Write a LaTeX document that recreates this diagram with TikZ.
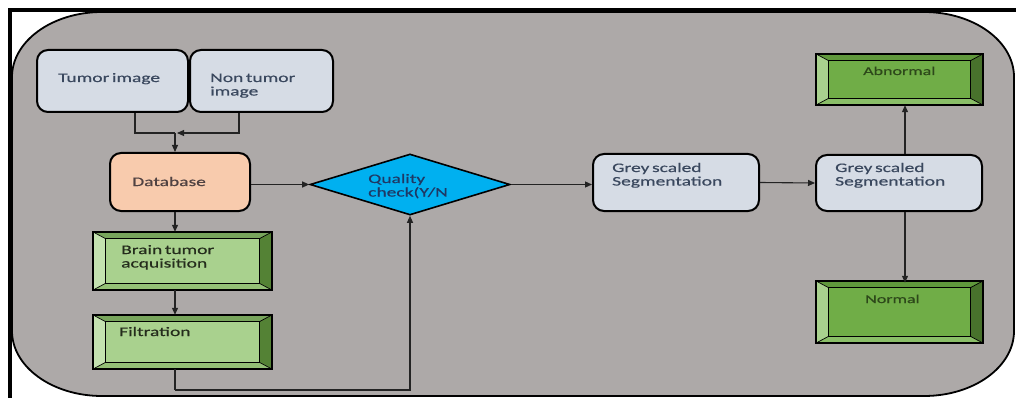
\documentclass[tikz,border=0pt]{standalone}
\usepackage{fontspec}
\setmainfont{Carlito}[FakeStretch=1.5,FakeBold=0.5]
\usetikzlibrary{arrows.meta,shapes.geometric,calc}
\definecolor{bggrey}{RGB}{173,169,168}
\definecolor{boxblue}{RGB}{214,220,229}
\definecolor{peach}{RGB}{248,203,173}
\definecolor{cyanq}{RGB}{0,176,240}
\definecolor{slate}{RGB}{58,72,94}
\definecolor{navyq}{RGB}{31,56,100}
\definecolor{dbtext}{RGB}{80,66,66}
\definecolor{gtext}{RGB}{36,44,28}
\definecolor{dgtext}{RGB}{45,72,26}
\definecolor{lgfill}{RGB}{169,209,142}
\definecolor{lgtop}{RGB}{120,165,92}
\definecolor{lgleft}{RGB}{196,226,176}
\definecolor{lgright}{RGB}{84,130,53}
\definecolor{lgbottom}{RGB}{148,192,118}
\definecolor{dgfill}{RGB}{112,173,71}
\definecolor{dgtop}{RGB}{96,152,60}
\definecolor{dgleft}{RGB}{169,209,142}
\definecolor{dgright}{RGB}{72,114,44}
\definecolor{dgbottom}{RGB}{138,190,104}
\definecolor{lineg}{RGB}{35,35,35}
\newcommand\bevelfaces[6]{%
 \fill[#2] (#1.north west) rectangle (#1.south east);
 \fill[#3] (#1.north west) -- (#1.north east) -- ([shift={(-13pt,-7pt)}]#1.north east) -- ([shift={(13pt,-7pt)}]#1.north west) -- cycle;
 \fill[#4] (#1.north west) -- ([shift={(13pt,-7pt)}]#1.north west) -- ([shift={(13pt,7pt)}]#1.south west) -- (#1.south west) -- cycle;
 \fill[#5] (#1.north east) -- ([shift={(-13pt,-7pt)}]#1.north east) -- ([shift={(-13pt,7pt)}]#1.south east) -- (#1.south east) -- cycle;
 \fill[#6] (#1.south west) -- ([shift={(13pt,7pt)}]#1.south west) -- ([shift={(-13pt,7pt)}]#1.south east) -- (#1.south east) -- cycle;
 \draw[line width=0.7pt] (#1.north west) -- ([shift={(13pt,-7pt)}]#1.north west)
   (#1.north east) -- ([shift={(-13pt,-7pt)}]#1.north east)
   (#1.south west) -- ([shift={(13pt,7pt)}]#1.south west)
   (#1.south east) -- ([shift={(-13pt,7pt)}]#1.south east);
 \draw[line width=1.3pt] ([shift={(13pt,-7pt)}]#1.north west) rectangle ([shift={(-13pt,7pt)}]#1.south east);
 \draw[line width=1.7pt] (#1.north west) rectangle (#1.south east);
}
\begin{document}
\begin{tikzpicture}[x=1pt,y=-1pt,
  roundbox/.style={draw=black,line width=2pt,rounded corners=11pt,inner sep=0pt},
  bevelnode/.style={inner sep=0pt,draw=none},
  lbl/.style={anchor=base west,inner sep=0pt,align=left,text width=160pt,
     font=\fontsize{13}{13.5}\selectfont,
     execute at begin node={\spaceskip=2.6pt plus 1pt\relax}},
  conn/.style={draw=lineg,line width=1.1pt},
  arr/.style={conn,-{Triangle[length=7pt,width=6pt]}}]
\useasboundingbox (0,0) rectangle (1016,398);
\fill[white] (0,0) rectangle (1016,398);
% grey rounded panel
\draw[fill=bggrey,line width=1.8pt] (102,12) -- (924,12)
  arc[start angle=-90,end angle=0,x radius=90,y radius=65] -- (1014,331)
  arc[start angle=0,end angle=90,x radius=90,y radius=65] -- (102,396)
  arc[start angle=90,end angle=180,x radius=90,y radius=65] -- (12,77)
  arc[start angle=180,end angle=270,x radius=90,y radius=65] -- cycle;
% outer frame
\draw[line width=4pt] (10,400) -- (10,10) -- (1020,10);
% nodes
\node[roundbox,fill=boxblue,minimum width=151pt,minimum height=62pt] (tumor) at (112.5,81) {};
\node[roundbox,fill=boxblue,minimum width=143pt,minimum height=62pt] (nontumor) at (261.5,81) {};
\node[roundbox,fill=peach,minimum width=140pt,minimum height=58pt] (database) at (180,182) {};
\node[diamond,draw=black,line width=1.6pt,fill=cyanq,inner sep=0pt,shape aspect=3.28,
      minimum width=200pt,minimum height=61pt] (diamond) at (410,184.5) {};
\node[roundbox,fill=boxblue,minimum width=166pt,minimum height=57pt] (grey1) at (676,182.5) {};
\node[roundbox,fill=boxblue,minimum width=166pt,minimum height=56pt] (grey2) at (899,183) {};
\node[bevelnode,minimum width=179pt,minimum height=58pt] (brain) at (182.5,261) {};
\node[bevelnode,minimum width=179pt,minimum height=54pt] (filtration) at (182.5,342) {};
\node[bevelnode,minimum width=167pt,minimum height=51pt] (abnormal) at (899.5,79.5) {};
\node[bevelnode,minimum width=167pt,minimum height=62pt] (normal) at (899.5,312) {};
\bevelfaces{brain}{lgfill}{lgtop}{lgleft}{lgright}{lgbottom}
\bevelfaces{filtration}{lgfill}{lgtop}{lgleft}{lgright}{lgbottom}
\bevelfaces{abnormal}{dgfill}{dgtop}{dgleft}{dgright}{dgbottom}
\bevelfaces{normal}{dgfill}{dgtop}{dgleft}{dgright}{dgbottom}
% labels
\node[lbl,text=slate] (tTumor) at (58,82) {Tumor image};
\node[lbl,text=slate] (tNon) at (210,82) {Non tumor\\image};
\node[lbl,text=dbtext] (tDb) at (132,186) {Database};
\node[lbl,text=navyq] (tQ) at (368,183) {Quality\\check(Y/N};
\node[lbl,text=slate] (tG1) at (612,172) {Grey scaled\\Segmentation};
\node[lbl,text=slate] (tG2) at (835,172) {Grey scaled\\Segmentation};
\node[lbl,text=gtext] (tBrain) at (121,254) {Brain tumor\\acquisition};
\node[lbl,text=gtext] (tFilt) at (119,336) {Filtration};
\node[lbl,text=dgtext,font=\fontsize{12}{13}\selectfont] (tAb) at (863,75) {Abnormal};
\node[lbl,text=dgtext,font=\fontsize{12}{13}\selectfont] (tNo) at (865,303) {Normal};
% connectors
\coordinate (join) at (175,133);
\coordinate (low) at (175,390);
\draw[conn] ([xshift=22.5pt]tumor.south) |- (join);
\draw[arr] ([xshift=-22.5pt]nontumor.south) |- ([xshift=2pt]join);
\draw[arr] (join) -- (join |- database.north);
\draw[arr] (database.east |- diamond.west) -- (diamond.west);
\draw[arr] (join |- database.south) -- (join |- brain.north);
\draw[arr] (join |- brain.south) -- (join |- filtration.north);
\draw[conn] (join |- filtration.south) -- (low);
\draw[arr] (low) -| (diamond.south);
\draw[arr] (diamond.east) -- (diamond.east -| grey1.west);
\draw[arr] (grey1.east) -- (grey2.west);
\draw[arr] ([xshift=6pt]grey2.north) -- ([xshift=6pt]grey2.north |- abnormal.south);
\draw[arr] ([xshift=6pt]grey2.south) -- ([shift={(6pt,-2pt)}]grey2.south |- normal.north);
\end{tikzpicture}
\end{document}
